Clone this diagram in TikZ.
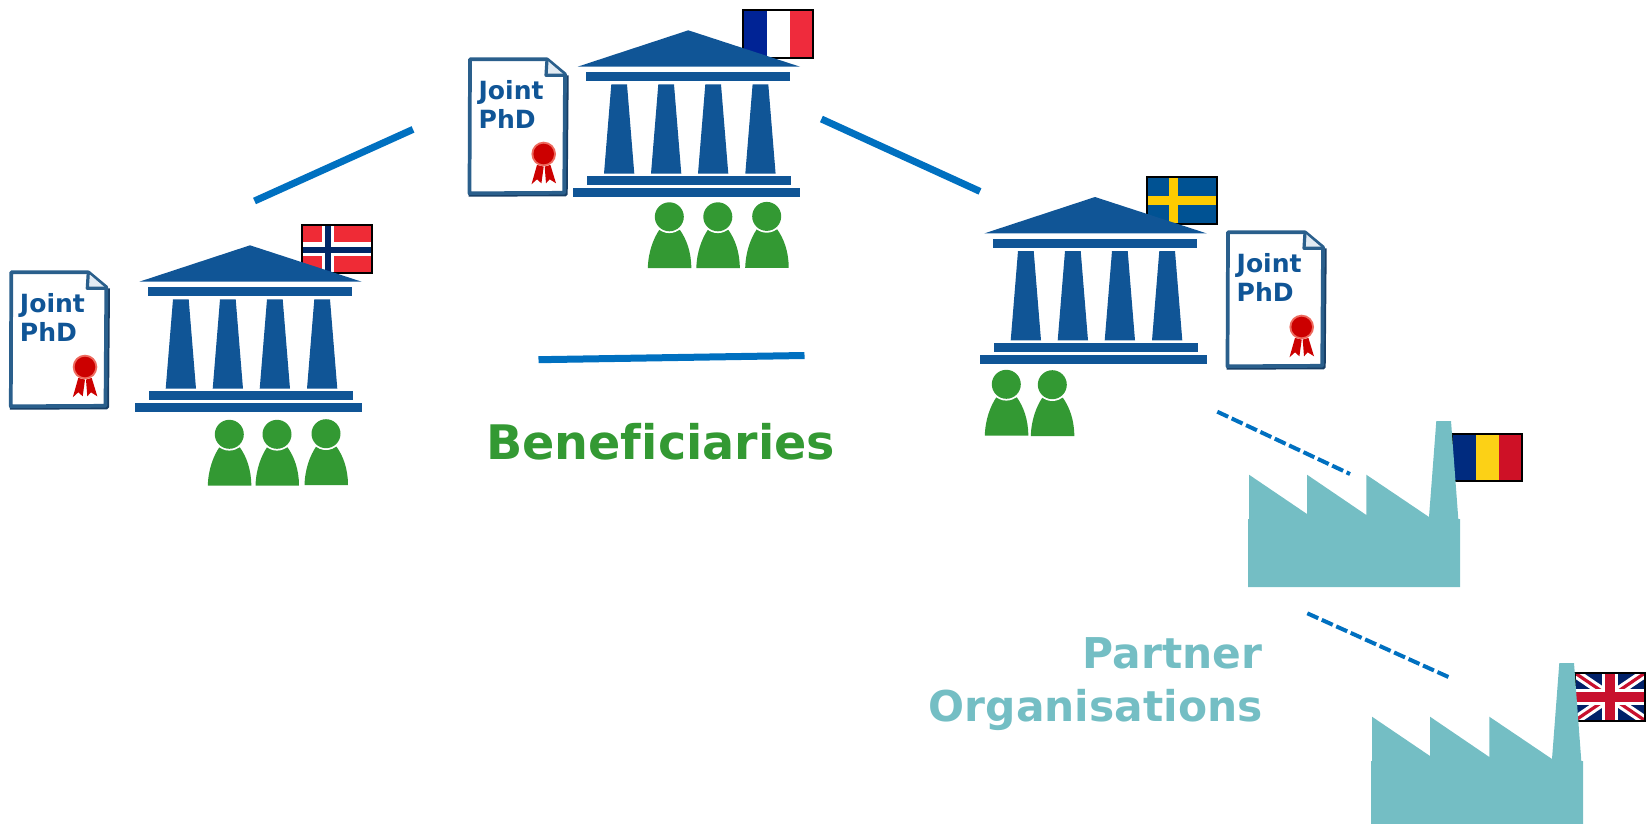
\documentclass[tikz,border=0pt]{standalone}
\usepackage{fontspec}
\setmainfont[Ligatures=NoCommon]{DejaVu Sans}
\definecolor{templeblue}{HTML}{105596}
\definecolor{linkblue}{HTML}{0070C0}
\definecolor{peoplegreen}{HTML}{339933}
\definecolor{factoryteal}{HTML}{74BEC4}
\definecolor{docedge}{HTML}{2A5F8C}
\definecolor{docdark}{HTML}{173E66}
\definecolor{sealred}{HTML}{CC0000}
\definecolor{sealhalo}{HTML}{EE6A5E}
\definecolor{frblue}{HTML}{002395}
\definecolor{frred}{HTML}{EF2B3C}
\definecolor{nored}{HTML}{EF2B36}
\definecolor{nonavy}{HTML}{002868}
\definecolor{seblue}{HTML}{005293}
\definecolor{seyellow}{HTML}{FECB00}
\definecolor{roblue}{HTML}{002B7F}
\definecolor{royellow}{HTML}{FCD116}
\definecolor{rored}{HTML}{CE1126}
\definecolor{ukblue}{HTML}{012169}
\definecolor{ukred}{HTML}{C8102E}
\tikzset{
  x=0.75pt,y=-0.75pt,
  flagline/.style={draw=black,line width=1.5pt},
  link/.style={draw=linkblue,line width=5.25pt},
  dashlink/.style={draw=linkblue,line width=3pt,dash pattern=on 9pt off 2.9pt},
  doctext/.style={anchor=base west,inner sep=0pt,text=templeblue,font=\fontsize{18.8}{22}\selectfont\bfseries},
  pics/temple/.style={code={
    \fill[templeblue] (0,0) -- (-110.7,36.4) -- (111.7,36.4) -- cycle;
    \fill[templeblue] (-102,41.7) rectangle (102,50.7);
    \fill[templeblue] (-77,54) -- (-61.3,54) -- (-54,143.4) -- (-84.3,143.4) -- cycle;
    \fill[templeblue] (-30,54) -- (-14.3,54) -- (-7,143.4) -- (-37.3,143.4) -- cycle;
    \fill[templeblue] (17,54) -- (32.7,54) -- (40,143.4) -- (9.7,143.4) -- cycle;
    \fill[templeblue] (64.3,54) -- (80,54) -- (87.3,143.4) -- (57,143.4) -- cycle;
    \fill[templeblue] (-101,145.7) rectangle (103,154.7);
    \fill[templeblue] (-115,157.7) rectangle (112,166.7);
  }},
  pics/person/.style={code={
    \fill[peoplegreen] (-21.5,51.4) .. controls (-21,35) and (-16,22) .. (-10,13) -- (10.5,13) .. controls (17,22) and (22,35) .. (22,51.4) -- cycle;
    \fill[white] (0,0) circle[radius=16.3];
    \fill[peoplegreen] (0,0) circle[radius=14.5];
  }},
  pics/factory/.style={code={
    \fill[factoryteal] (0,0) -- (1,0) -- (1,-44.3) -- (59,-5) -- (59,-44.3) -- (118.3,-4) -- (118.3,-44.3) -- (181,-2)
      -- (188.3,-98) -- (203,-98) -- (210.3,0) -- (212,0) -- (212,#1) -- (0,#1) -- cycle;
  }},
  pics/degree/.style={code={
    \fill[white] (1,1) rectangle (97,136);
    \draw[docdark,line width=3pt,line join=round] (98.7,18) -- (97.7,137) -- (0.5,137.4);
    \draw[docedge,line width=2.8pt,line join=round] (1.5,136) -- (2,2) -- (79,2) -- (97,17) -- (96.2,135.5) -- cycle;
    \fill[white!88!templeblue] (79,3) -- (96,17.5) -- (78.5,17.5) -- cycle;
    \draw[docedge,line width=2.4pt,line join=round] (79,2) -- (78,18) -- (97,18);
    \node[doctext] (jt) at (10.4,42.6) {Joint};
    \node[doctext] (pd) at (10.4,71.2) {PhD};
    \fill[sealred] (69,107.6) -- (75.7,109.3) -- (73.4,126) -- (69,122) -- (63.5,127) -- cycle;
    \fill[sealred] (76.7,109.3) -- (82.4,107.6) -- (88,126) -- (81.7,122) -- (78,126) -- cycle;
    \fill[sealhalo] (75.7,96.7) circle[radius=12.3];
    \fill[sealred] (75.7,96.7) circle[radius=10.3];
  }},
  pics/flagno/.style={code={
    \fill[nored] (0,0) rectangle (70,47.5);
    \fill[white] (19.7,0) rectangle (32.3,47.5);
    \fill[white] (0,17.3) rectangle (70,30.7);
    \fill[nonavy] (23,0) rectangle (29,47.5);
    \fill[nonavy] (0,22.3) rectangle (70,28);
    \draw[flagline] (0,0) rectangle (70,47.5);
  }},
  pics/flagfr/.style={code={
    \fill[frblue] (0,0) rectangle (24.6,47.5);
    \fill[white] (24.6,0) rectangle (47.3,47.5);
    \fill[frred] (47.3,0) rectangle (70,47.5);
    \draw[flagline] (0,0) rectangle (70,47.5);
  }},
  pics/flagse/.style={code={
    \fill[seblue] (0,0) rectangle (70,47.5);
    \fill[seyellow] (22.7,0) rectangle (31.6,47.5);
    \fill[seyellow] (0,19.3) rectangle (70,28.7);
    \draw[flagline] (0,0) rectangle (70,47.5);
  }},
  pics/flagro/.style={code={
    \fill[roblue] (0,0) rectangle (24,47.5);
    \fill[royellow] (24,0) rectangle (47.5,47.5);
    \fill[rored] (47.5,0) rectangle (70,47.5);
    \draw[flagline] (0,0) rectangle (70,47.5);
  }},
  pics/flaguk/.style={code={
    \begin{scope}
      \clip (0,0) rectangle (70,47.5);
      \fill[ukblue] (0,0) rectangle (70,47.5);
      \draw[white,line width=7pt] (0,0) -- (70,47.5) (70,0) -- (0,47.5);
      \draw[ukred,line width=2.4pt] (0,0) -- (70,47.5) (70,0) -- (0,47.5);
      \fill[white] (27,0) rectangle (43,47.5);
      \fill[white] (0,15.5) rectangle (70,32);
      \fill[ukred] (30,0) rectangle (40,47.5);
      \fill[ukred] (0,18.5) rectangle (70,29);
    \end{scope}
    \draw[flagline] (0,0) rectangle (70,47.5);
  }},
}
\begin{document}
\begin{tikzpicture}
\useasboundingbox (0,0) rectangle (1649,824);
% flags
\pic (fno) at (302,225) {flagno};
\pic (ffr) at (742.5,10.2) {flagfr};
\pic (fse) at (1146.5,176.5) {flagse};
\pic (fro) at (1451.5,433.5) {flagro};
\pic (fuk) at (1575,673) {flaguk};
% temples
\pic (tno) at (250,245.3) {temple};
\pic (tfr) at (688.3,30.3) {temple};
\pic (tse) at (1095,197) {temple};
% people
\pic (p1) at (229.3,434.3) {person};
\pic (p2) at (277,434.3) {person};
\pic (p3) at (326,433.7) {person};
\pic (p4) at (669.3,216.8) {person};
\pic (p5) at (717.8,216.8) {person};
\pic (p6) at (766.7,216.4) {person};
\pic (p7) at (1006.3,384.3) {person};
\pic (p8) at (1052.3,384.7) {person};
% degrees
\pic (dno) at (9.3,270.3) {degree};
\pic (dfr) at (468,57.3) {degree};
\pic (dse) at (1226,230.3) {degree};
% factories
\pic (fa) at (1248,519) {factory=68};
\pic (fb) at (1371,761) {factory=63};
% links
\coordinate (a1) at (254.5,201);
\coordinate (a2) at (413,129.4);
\coordinate (b1) at (821.4,119);
\coordinate (b2) at (980,191.4);
\coordinate (c1) at (538.5,359.7);
\coordinate (c2) at (804.5,355.5);
\coordinate (d1) at (1217.3,411.7);
\coordinate (d2) at (1350,474);
\coordinate (e1) at (1307.3,613.3);
\coordinate (e2) at (1450,677.7);
\draw[link] (a1) -- (a2);
\draw[link] (b1) -- (b2);
\draw[link] (c1) -- (c2);
\draw[dashlink] (d1) -- (d2);
\draw[dashlink] (e1) -- (e2);
% labels
\node[anchor=base west,inner sep=0pt,text=peoplegreen,font=\fontsize{35.7}{40}\selectfont\bfseries] (ben) at (486,459.6) {Beneficiaries};
\node[anchor=base east,inner sep=0pt,align=right,text=factoryteal,font=\fontsize{31.8}{39.4}\selectfont\bfseries] (par) at (1262.8,721) {Partner\\Organisations};
\end{tikzpicture}
\end{document}
